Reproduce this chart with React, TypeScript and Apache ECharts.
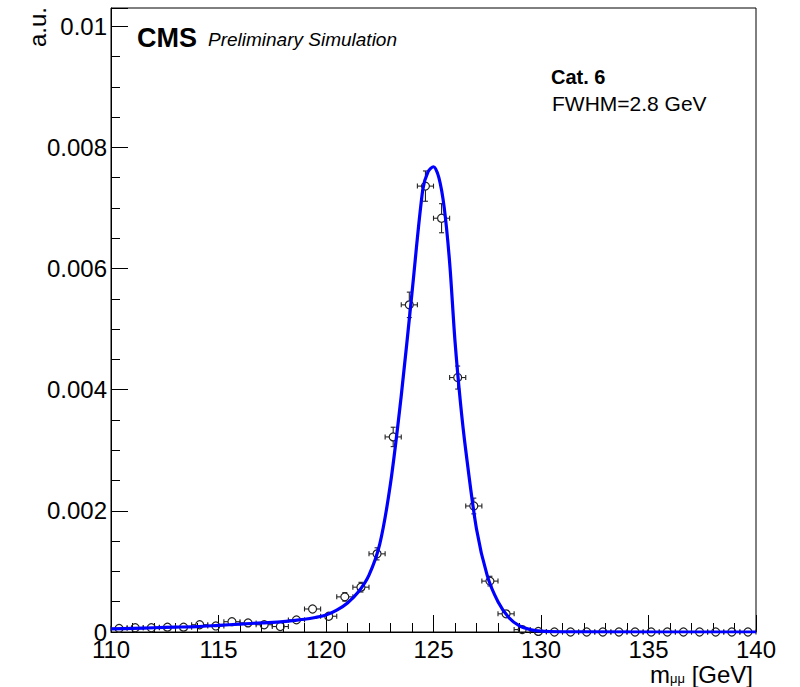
import React, { useEffect, useRef } from 'react';
import * as echarts from 'echarts';

// Histogram bin centres (GeV) and bin half width
const binCenters = [110.375, 111.125, 111.875, 112.625, 113.375, 114.125, 114.875, 115.625, 116.375, 117.125,
  117.875, 118.625, 119.375, 120.125, 120.875, 121.625, 122.375, 123.125, 123.875, 124.625,
  125.375, 126.125, 126.875, 127.625, 128.375, 129.125, 129.875, 130.625, 131.375, 132.125,
  132.875, 133.625, 134.375, 135.125, 135.875, 136.625, 137.375, 138.125, 138.875, 139.625];
const binHalfWidth = 0.375;

// Simulated points (a.u.)
const simValues = [0.00006, 0.00007, 0.00007, 0.00008, 0.00008, 0.00012, 0.00010, 0.00017, 0.00015, 0.00012,
  0.00009, 0.00020, 0.00038, 0.00026, 0.00058, 0.00074, 0.00129, 0.00322, 0.00540, 0.00736,
  0.00683, 0.00420, 0.00208, 0.00084, 0.00030, 0.00004, 0.00001, 0, 0, 0,
  0, 0, 0, 0, 0, 0, 0, 0, 0, 0];
const simErrors = [0.00002, 0.00002, 0.00002, 0.00003, 0.00003, 0.00003, 0.00003, 0.00004, 0.00004, 0.00003,
  0.00003, 0.00004, 0.00006, 0.00005, 0.00007, 0.00008, 0.00010, 0.00016, 0.00021, 0.00025,
  0.00024, 0.00019, 0.00013, 0.00008, 0.00005, 0.00002, 0.00001, 0, 0, 0,
  0, 0, 0, 0, 0, 0, 0, 0, 0, 0];

// Fitted signal shape
const fitX = [110, 111, 112, 113, 114, 115, 116, 117, 118, 118.5, 119, 119.5, 120, 120.5, 121, 121.5, 122, 122.5,
  123, 123.5, 124, 124.5, 124.75, 125, 125.25, 125.5, 125.75, 126, 126.25, 126.5, 127, 127.5, 128, 128.5,
  129, 129.5, 130, 131, 132, 140];
const fitY = [0.00005, 0.00006, 0.00007, 0.00008, 0.00009, 0.00011, 0.00013, 0.00015, 0.00017, 0.00019, 0.00021,
  0.00024, 0.00028, 0.00036, 0.00048, 0.00066, 0.00094, 0.00145, 0.00245, 0.0039, 0.0056, 0.0073, 0.0076,
  0.00768, 0.0075, 0.0070, 0.0061, 0.0048, 0.0038, 0.0030, 0.0017, 0.00093, 0.00050, 0.00024, 0.00010,
  0.00004, 0.000015, 0.000003, 0.000001, 0];

const xTickValues = [110, 115, 120, 125, 130, 135, 140];
const yTickLabels: Record<string, string> = { '0': '0', '0.002': '0.002', '0.004': '0.004', '0.006': '0.006', '0.008': '0.008', '0.01': '0.01' };

const FONT = '"Liberation Sans", Arial, Helvetica, sans-serif';

export default function App() {
  const ref = useRef<HTMLDivElement>(null);
  useEffect(() => {
    if (!ref.current) return;
    const chart = echarts.init(ref.current, null, { renderer: 'svg' });
    const points = binCenters.map((x, i) => [x, simValues[i], simErrors[i]]);
    const fit = fitX.map((x, i) => [x, fitY[i]]);
    const ink = '#222';
    chart.setOption({
      animation: false,
      backgroundColor: '#fff',
      grid: { left: 111, right: 44, top: 8, bottom: 55, show: true, borderColor: '#000', borderWidth: 1, backgroundColor: 'transparent' },
      xAxis: {
        type: 'value', min: 110, max: 140, interval: 5,
        axisLine: { show: true, onZero: false, lineStyle: { color: '#000', width: 1 } },
        axisTick: { show: true, inside: true, length: 17, lineStyle: { color: '#000', width: 1 } },
        minorTick: { show: true, splitNumber: 5, length: 9, lineStyle: { color: '#000', width: 1 } },
        splitLine: { show: false },
        axisLabel: {
          color: '#000', fontSize: 24, fontFamily: FONT, margin: 5,
          formatter: (v: number) => (xTickValues.indexOf(v) >= 0 ? String(v) : ''),
        },
      },
      yAxis: [
        {
          type: 'value', min: 0, max: 0.0103, interval: 0.002,
          axisLine: { show: true, lineStyle: { color: '#000', width: 1 } },
          axisTick: { show: true, inside: true, length: 17, lineStyle: { color: '#000', width: 1 } },
          splitLine: { show: false },
          axisLabel: {
            color: '#000', fontSize: 24, fontFamily: FONT, margin: 4,
            formatter: (v: number) => {
              const k = String(Math.round(v * 1000) / 1000);
              return Math.abs(v * 500 - Math.round(v * 500)) < 1e-6 && yTickLabels[k] !== undefined ? yTickLabels[k] : '';
            },
          },
        },
        {
          type: 'value', min: 0, max: 0.0103, interval: 0.0005, position: 'left',
          axisLine: { show: false },
          axisTick: { show: true, inside: true, length: 9, lineStyle: { color: '#000', width: 1 } },
          splitLine: { show: false },
          axisLabel: { show: false },
        },
      ],
      series: [
        {
          type: 'custom',
          data: points,
          encode: { x: 0, y: 1 },
          z: 2,
          renderItem: (params: any, api: any) => {
            const x = api.value(0), y = api.value(1), e = api.value(2);
            const c = api.coord([x, y]);
            const l = api.coord([x - binHalfWidth, y])[0];
            const rr = api.coord([x + binHalfWidth, y])[0];
            const top = api.coord([x, y + e])[1];
            const bot = api.coord([x, y - e])[1];
            const r = 4;
            const ls = { stroke: ink, lineWidth: 1.1 };
            const children: any[] = [
              { type: 'circle', shape: { cx: c[0], cy: c[1], r }, style: { stroke: ink, fill: 'none', lineWidth: 1.2 } },
              { type: 'line', shape: { x1: l, y1: c[1], x2: c[0] - r, y2: c[1] }, style: ls },
              { type: 'line', shape: { x1: c[0] + r, y1: c[1], x2: rr, y2: c[1] }, style: ls },
              { type: 'line', shape: { x1: l, y1: c[1] - 2.5, x2: l, y2: c[1] + 2.5 }, style: ls },
              { type: 'line', shape: { x1: rr, y1: c[1] - 2.5, x2: rr, y2: c[1] + 2.5 }, style: ls },
            ];
            if (c[1] - top > r) {
              children.push({ type: 'line', shape: { x1: c[0], y1: c[1] - r, x2: c[0], y2: top }, style: ls });
              children.push({ type: 'line', shape: { x1: c[0] - 2.5, y1: top, x2: c[0] + 2.5, y2: top }, style: ls });
            }
            if (bot - c[1] > r) {
              children.push({ type: 'line', shape: { x1: c[0], y1: c[1] + r, x2: c[0], y2: bot }, style: ls });
              children.push({ type: 'line', shape: { x1: c[0] - 2.5, y1: bot, x2: c[0] + 2.5, y2: bot }, style: ls });
            }
            return { type: 'group', children };
          },
        },
        {
          type: 'line',
          data: fit,
          smooth: 0.3,
          showSymbol: false,
          symbol: 'none',
          z: 3,
          lineStyle: { color: '#0000ff', width: 3.2 },
        },
      ],
      graphic: [
        { type: 'text', x: 137, y: 38, style: { text: 'CMS', font: `bold 27px ${FONT}`, fill: '#000', verticalAlign: 'middle' } },
        { type: 'text', x: 208, y: 39, style: { text: 'Preliminary Simulation', font: `italic 19px ${FONT}`, fill: '#000', verticalAlign: 'middle' } },
        { type: 'text', x: 551, y: 77, style: { text: 'Cat. 6', font: `bold 20px ${FONT}`, fill: '#000', verticalAlign: 'middle' } },
        { type: 'text', x: 552, y: 103, style: { text: 'FWHM=2.8 GeV', font: `21px ${FONT}`, fill: '#000', verticalAlign: 'middle' } },
        { type: 'text', x: 37, y: 7, rotation: Math.PI / 2, style: { text: 'a.u.', font: `24px ${FONT}`, fill: '#000', align: 'right', verticalAlign: 'middle' } },
        {
          type: 'text', x: 753, y: 674,
          style: {
            text: 'm{sub|μμ} [GeV]', align: 'right', verticalAlign: 'middle', fill: '#000',
            font: `24px ${FONT}`, lineHeight: 22,
            rich: { sub: { fontSize: 13, fontFamily: FONT, verticalAlign: 'bottom', lineHeight: 20, padding: [8, 0, 0, 0], fill: '#000' } },
          },
        },
      ],
    });
    return () => chart.dispose();
  }, []);
  return <div ref={ref} style={{ position: 'absolute', left: 0, top: 0, width: 800, height: 687 }} />;
}
